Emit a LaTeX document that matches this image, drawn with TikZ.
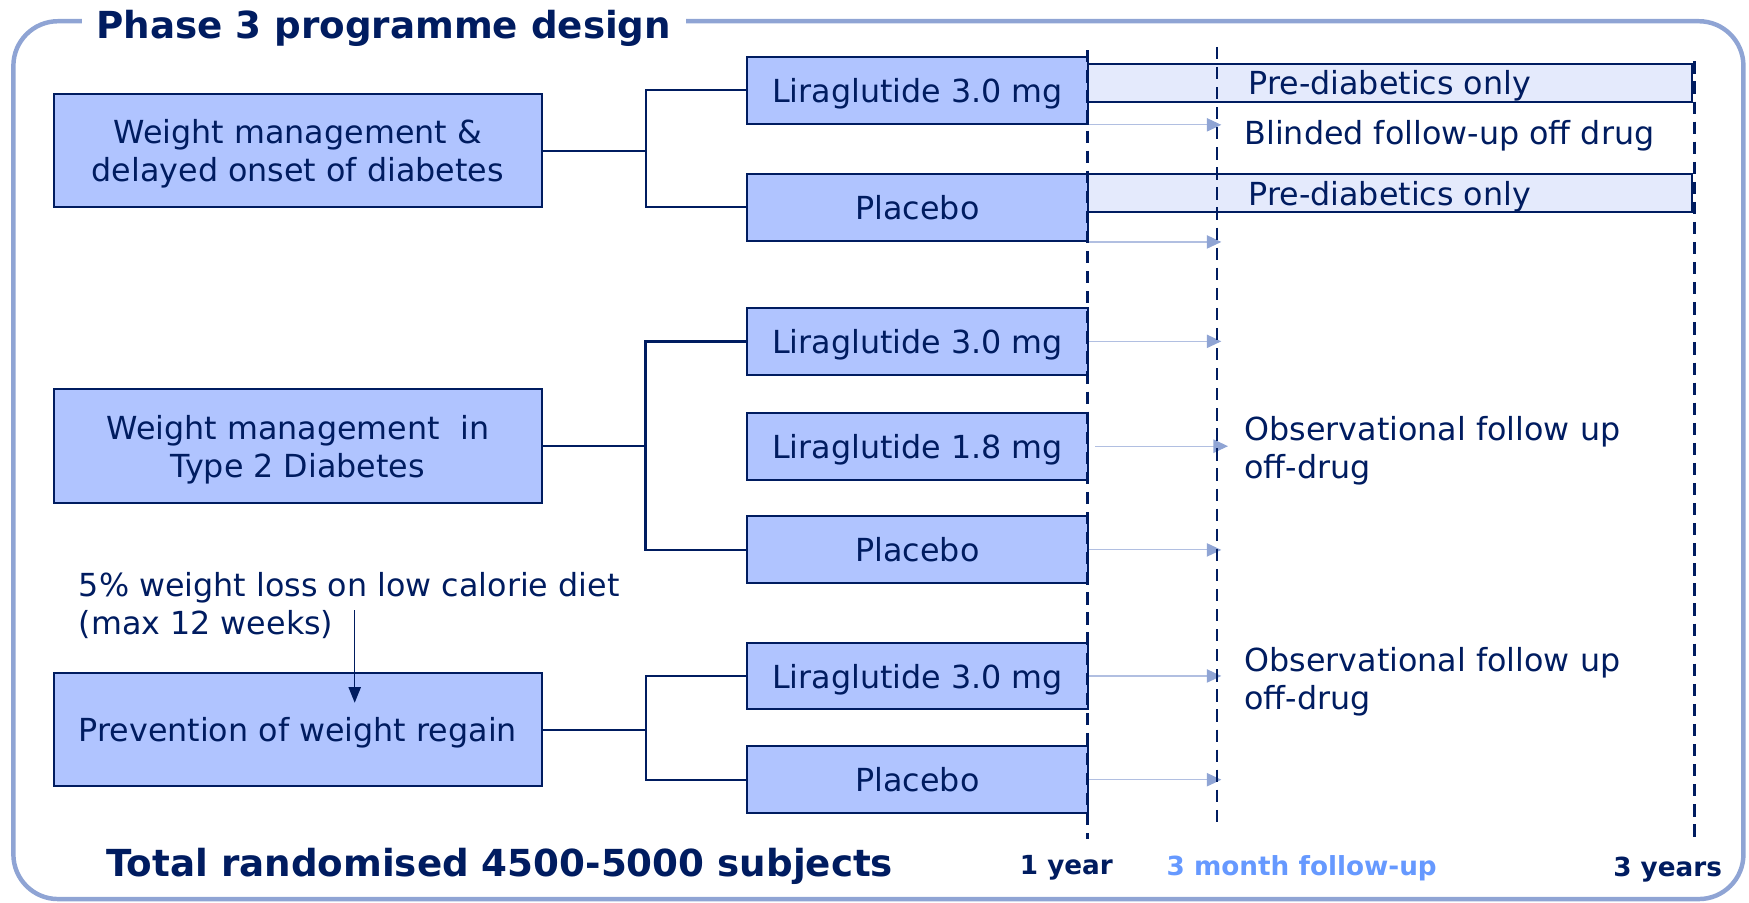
\documentclass[tikz,border=0pt]{standalone}
\usepackage{fontspec}
\setmainfont{DejaVu Sans}
\usetikzlibrary{arrows.meta, positioning, calc}
\definecolor{navy}{RGB}{0,28,96}
\definecolor{armfill}{RGB}{176,196,255}
\definecolor{onlyfill}{RGB}{228,234,252}
\definecolor{frameblue}{RGB}{143,164,212}
\definecolor{fuptext}{RGB}{102,153,255}
\newcommand{\bodysize}{\fontsize{8.1}{9.8}\selectfont}
\newcommand{\headsize}{\fontsize{9.5}{11}\selectfont\bfseries}
\newcommand{\ticksize}{\fontsize{6.7}{8}\selectfont\bfseries}
\tikzset{>=stealth,
	aim/.style={draw=navy, fill=armfill, line width=0.18mm, text=navy, align=center, minimum width=43.8mm, minimum height=10.2mm, text depth=0pt, font=\bodysize},
	arm/.style={aim, minimum width=30.5mm, minimum height=6mm},
	only/.style={draw=navy, fill=onlyfill, line width=0.18mm, text=navy, minimum width=54.2mm, minimum height=3.4mm, inner sep=0pt, text depth=0pt, font=\bodysize},
	branch/.style={navy, line width=0.18mm},
	fup/.style={draw=frameblue!70, line width=0.1mm, -{Triangle[length=1.3mm, width=1.2mm, color=frameblue]}},
	tl/.style={navy, line width=0.25mm, dash pattern=on 1.1mm off 0.7mm},
	note/.style={text=navy, align=left, anchor=west, inner sep=0pt, text depth=0pt, font=\bodysize},
	tick/.style={text=navy, text depth=0pt, font=\ticksize}}

\begin{document}
\begin{tikzpicture}[x=0.1mm, y=-0.1mm]
	\useasboundingbox (0,0) rectangle (1568,809);

	% frame and title
	\draw [frameblue, line width=0.4mm, rounded corners=4mm] (12,19) rectangle (1563,806);
	\node [fill=white, text=navy, font=\headsize, text depth=0pt, inner xsep=1.3mm] (title) at (344,22) {Phase 3 programme design};

	% aims
	\node [aim] (wm) at (267,135) {Weight management \&\\delayed onset of diabetes};
	\node [aim] (t2) at (267,400) {Weight management ~in\\Type 2 Diabetes};
	\node [aim] (pr) at (267,654) {Prevention of weight regain};

	% arms
	\node [arm] (wm-lira) at (822.5,81) {Liraglutide 3.0 mg};
	\node [arm] (wm-plac) at (822.5,186) {Placebo};
	\node [arm] (t2-lira3) at (822.5,306) {Liraglutide 3.0 mg};
	\node [arm] (t2-lira18) at (822.5,400) {Liraglutide 1.8 mg};
	\node [arm] (t2-plac) at (822.5,493) {Placebo};
	\node [arm] (pr-lira) at (822.5,606) {Liraglutide 3.0 mg};
	\node [arm] (pr-plac) at (822.5,699) {Placebo};

	\draw [branch] (wm.east) -- ++(92,0) |- (wm-lira.west);
	\draw [branch] (wm.east) -- ++(92,0) |- (wm-plac.west);
	\draw [branch, line width=0.22mm] (t2.east) -- ++(92,0) |- (t2-lira3.west);
	\draw [branch, line width=0.22mm] (t2.east) -- ++(92,0) |- (t2-plac.west);
	\draw [branch] (pr.east) -- ++(92,0) |- (pr-lira.west);
	\draw [branch] (pr.east) -- ++(92,0) |- (pr-plac.west);

	% pre-diabetics extension
	\node [only] (wm-lira-ext) at (1246,74) {Pre-diabetics only};
	\node [only] (wm-plac-ext) at (1246,173) {Pre-diabetics only};

	% follow-up arrows
	\draw [fup] (wm-lira.south east) -- ++(119,0);
	\draw [fup] (wm-plac.south east) -- ++(119,0);
	\draw [fup] ($(t2-lira18.east)+(6,0)$) -- ++(119,0);
	\foreach \a in {t2-lira3, t2-plac, pr-lira, pr-plac}
		\draw [fup] (\a.east) -- ++(119,0);

	% time lines
	\draw [tl] (975,45) -- (975,752);
	\draw [tl] (1091,42) -- (1091,737);
	\draw [tl] (1519,55) -- (1519,752);

	\node [note] (blind) at (1115,119) {Blinded follow-up off drug};
	\node [note] (obs-t2) at (1115,401) {Observational follow up\\off-drug};
	\node [note] (obs-pr) at (1115,608) {Observational follow up\\off-drug};

	% run-in
	\node [note] (diet) at (70,541) {5\% weight loss on low calorie diet\\(max 12 weeks)};
	\coordinate (diet-in) at (318,547);
	\coordinate (diet-out) at (318,630);
	\draw [navy, line width=0.12mm, -{Triangle[length=1.4mm, width=1.1mm]}] (diet-in) -- (diet-out);

	% bottom
	\node [text=navy, font=\headsize, text depth=0pt] (total) at (448,773) {Total randomised 4500-5000 subjects};
	\node [tick] (yr1) at (956,775) {1 year};
	\node [tick, text=fuptext] (fu) at (1167,776) {3 month follow-up};
	\node [tick] (yr3) at (1495,777) {3 years};

\end{tikzpicture}
\end{document}
